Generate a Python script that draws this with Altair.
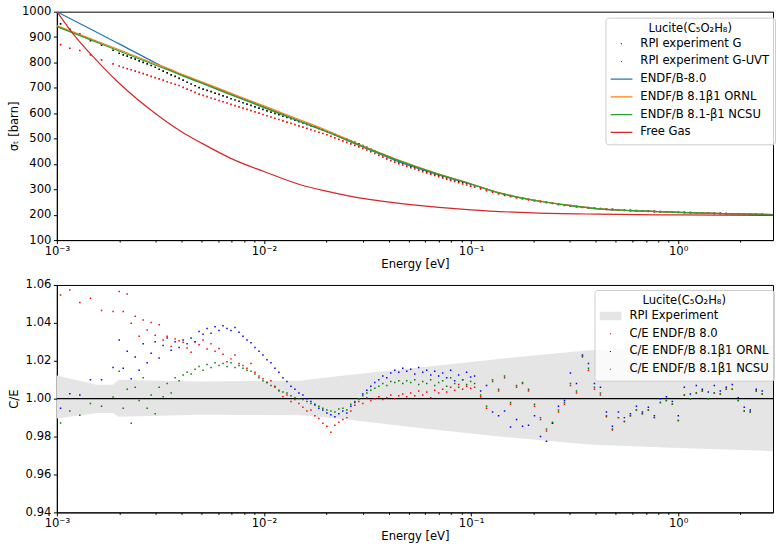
import altair as alt
import pandas as pd

FONT = "DejaVu Sans"
FS = 11.6

# ---------------- measured energy grid (eV) ----------------
E_sparse = [0.001042, 0.001155, 0.001291, 0.001453, 0.001643, 0.001868]
E_dense = [0.002000, 0.002091, 0.002186, 0.002285, 0.002389, 0.002497, 0.002611, 0.002729, 0.002853, 0.002983,
           0.003118, 0.003260, 0.003408, 0.003563, 0.003724, 0.003893, 0.004070, 0.004255, 0.004448, 0.004650,
           0.004861, 0.005082, 0.005313, 0.005554, 0.005806, 0.006070, 0.006345, 0.006633, 0.006934, 0.007249,
           0.007578, 0.007922, 0.008282, 0.008658, 0.009051, 0.009462, 0.009891, 0.01034, 0.01081, 0.01130,
           0.01181, 0.01235, 0.01291, 0.01350, 0.01411, 0.01475, 0.01542, 0.01612, 0.01685, 0.01762,
           0.01842, 0.01925, 0.02013, 0.02104, 0.02200, 0.02299, 0.02404, 0.02513, 0.02627, 0.02746,
           0.02871, 0.03001, 0.03138, 0.03280, 0.03429, 0.03585, 0.03747, 0.03918, 0.04095, 0.04281,
           0.04476, 0.04679, 0.04891, 0.05113, 0.05346, 0.05588, 0.05842, 0.06107, 0.06385, 0.06675,
           0.06977, 0.07294, 0.07625, 0.07971, 0.08333, 0.08712, 0.09107, 0.09521, 0.09953]
E_high = [0.1040, 0.1112, 0.1188, 0.1270, 0.1358, 0.1451, 0.1551, 0.1658, 0.1772, 0.1894,
          0.2025, 0.2164, 0.2313, 0.2473, 0.2643, 0.2825, 0.3020, 0.3228, 0.3450, 0.3688,
          0.3942, 0.4214, 0.4504, 0.4814, 0.5146, 0.5500, 0.5879, 0.6284, 0.6717, 0.7180,
          0.7675, 0.8204, 0.8769, 0.9373, 1.0019, 1.0709, 1.1447, 1.2236, 1.3079, 1.3980,
          1.4943, 1.5973, 1.7073, 1.8250, 1.9507, 2.0851, 2.2288, 2.3823, 2.5465]
E_meas = E_sparse + E_dense + E_high

# ---------------- top panel: measured total cross sections (barn) ----------------
sigma_G = [952, 930, 912, 886, 868, 848,
           836, 830, 825, 818, 813, 806, 800, 794, 788, 781,
           773, 766, 759, 751, 745, 737, 730, 722, 715, 708,
           701, 695, 690, 685, 679, 674, 668, 663, 657, 652,
           647, 641, 636, 631, 625, 620, 615, 609, 604, 599,
           594, 588, 583, 578, 572, 567, 562, 556, 551, 546,
           540, 534, 528, 522, 516, 510, 503, 497, 491, 485,
           479, 472, 465, 458, 451, 444, 437, 430, 423, 416,
           408, 402, 397, 391, 386, 381, 375, 370, 365, 360,
           356, 351, 346, 341, 337, 332, 327, 323, 318,
           314, 307, 300, 293, 286, 280, 275, 270, 266, 261,
           257, 253, 249, 246, 242, 239, 236, 233, 230, 228,
           226, 224, 222, 221, 219, 218, 217, 216, 215, 214,
           213, 212, 211, 210, 209.5, 209, 208, 207.5, 207, 206,
           205.5, 205, 204, 203.5, 203, 202.5, 202, 201.5, 201]
sigma_UVT = [870, 856, 847, 830, 810, 794,
             786, 780, 775, 771, 766, 761, 756, 751, 745, 740,
             735, 730, 724, 719, 714, 709, 702, 695, 689, 682,
             675, 670, 665, 660, 655, 650, 645, 640, 635, 630,
             625, 620, 615, 610, 605, 600, 595, 590, 585, 580,
             575, 570, 565, 560, 555, 550, 545, 540, 535, 530,
             525, 520, 515, 509, 503, 497, 491, 485, 479, 473,
             467, 461, 455, 448, 441, 434, 427, 420, 413, 407,
             401, 396, 390, 385, 380, 375, 370, 365, 360, 355,
             350, 345, 340, 335, 331, 326, 321, 317, 312,
             308, 302, 295, 289, 282, 276, 271, 266, 262, 258,
             254, 250, 247, 244, 240, 237, 234, 231, 229, 227,
             225, 223, 221, 220, 218, 217, 216, 215, 214, 213,
             212, 211, 210, 209.5, 209, 208.5, 208, 207, 206.5, 206,
             205, 204.5, 204, 203, 202.5, 202, 201.5, 201, 200.5]

# ---------------- top panel: evaluations (barn) ----------------
E_eval = [0.001, 0.0015, 0.002, 0.003, 0.0035, 0.004, 0.005, 0.007, 0.01, 0.015, 0.02, 0.03, 0.045,
          0.07, 0.1, 0.136, 0.2, 0.3, 0.41, 0.6, 1.0, 1.5, 2.0, 2.87]
sigma_endf80 = [1000, 926, 873, 798, 771, 751, 721, 673, 625, 568, 528, 467, 408,
                357, 320, 286, 257, 236, 223, 216, 209, 205, 203, 200]
sigma_ornl = [945, 889, 850, 794, 774, 754, 724, 677, 629, 573, 533, 471, 414,
              360, 322, 287, 258, 237, 224, 216, 209, 205, 203, 200]
sigma_ncsu = [941, 885, 845, 789, 768, 749, 718, 671, 622, 566, 527, 469, 412,
              359, 321, 286, 257, 236, 223, 216, 209, 205, 203, 200]
E_free = [0.001, 0.0012, 0.0015, 0.002, 0.003, 0.004, 0.005, 0.007, 0.01, 0.015, 0.02,
          0.03, 0.045, 0.07, 0.1, 0.2, 0.41, 1.0, 2.87]
sigma_free = [1000, 912, 822, 718, 598, 527, 482, 420, 370, 318, 293,
              264, 245, 229, 219, 207, 202, 199, 197]

# ---------------- bottom panel: C/E ----------------
ce_endf80 = [1.0547, 1.0574, 1.0507, 1.0530, 1.0465, 1.0460,
             1.0565, 1.0460, 1.0552, 1.0398, 1.0435, 1.0330, 1.0415, 1.0362, 1.0402, 1.0335,
             1.0390, 1.0310, 1.0330, 1.0275, 1.0315, 1.0305, 1.0298, 1.0268, 1.0245, 1.0300,
             1.0285, 1.0310, 1.0262, 1.0290, 1.0250, 1.0265, 1.0235, 1.0195, 1.0210, 1.0230,
             1.0185, 1.0175, 1.0160, 1.0185, 1.0140, 1.0120, 1.0105, 1.0085, 1.0095, 1.0065,
             1.0040, 1.0010, 1.0020, 0.9985, 0.9995, 0.9975, 0.9955, 0.9935, 0.9940, 0.9910,
             0.9895, 0.9870, 0.9855, 0.9823, 0.9860, 0.9875, 0.9890, 0.9900, 0.9935, 0.9965,
             0.9985, 0.9975, 1.0005, 0.9990, 1.0000, 1.0010, 0.9995, 1.0005, 1.0020, 1.0000,
             1.0015, 1.0025, 1.0010, 1.0030, 1.0015, 1.0040, 1.0020, 1.0035, 1.0005, 1.0045,
             1.0030, 1.0050, 1.0035, 1.0060, 1.0045, 1.0075, 1.0050, 1.0065, 1.0055,
             1.006, 1.001, 0.995, 1.009, 1.004, 1.011, 0.997, 1.006, 1.008, 1.004,
             0.996, 0.989, 0.983, 0.987, 0.993, 0.997, 1.007, 1.003, 1.022, 1.015,
             1.005, 1.002, 0.9905, 0.9835, 0.990, 0.988, 0.991, 0.994, 0.992, 0.994,
             0.990, 0.998, 0.999, 0.997, 0.9885, 1.002, 1.000, 1.003, 1.004, 1.000,
             1.003, 1.0025, 1.005, 1.005, 0.999, 0.9935, 0.993, 1.004, 1.0025]
ce_ornl = [0.9950, 1.0026, 1.0019, 1.0100, 1.0100, 1.0165,
           1.0310, 1.0160, 1.0250, 1.0105, 1.0220, 1.0150, 1.0290, 1.0190, 1.0240, 1.0300,
           1.0215, 1.0280, 1.0320, 1.0255, 1.0300, 1.0270, 1.0310, 1.0290, 1.0320, 1.0300,
           1.0355, 1.0340, 1.0370, 1.0345, 1.0380, 1.0360, 1.0385, 1.0370, 1.0360, 1.0375,
           1.0350, 1.0330, 1.0310, 1.0295, 1.0270, 1.0250, 1.0230, 1.0205, 1.0190, 1.0160,
           1.0140, 1.0110, 1.0090, 1.0065, 1.0050, 1.0030, 1.0020, 1.0000, 0.9985, 0.9970,
           0.9950, 0.9940, 0.9925, 0.9915, 0.9905, 0.9920, 0.9935, 0.9925, 0.9960, 0.9980,
           1.0000, 1.0025, 1.0045, 1.0065, 1.0085, 1.0100, 1.0120, 1.0110, 1.0135, 1.0150,
           1.0140, 1.0160, 1.0145, 1.0155, 1.0130, 1.0165, 1.0140, 1.0150, 1.0125, 1.0145,
           1.0120, 1.0135, 1.0110, 1.0150, 1.0095, 1.0125, 1.0100, 1.0140, 1.0115,
           1.012, 1.004, 1.007, 0.993, 0.991, 0.9935, 0.985, 0.989, 0.9855, 0.986,
           0.991, 0.980, 0.9775, 0.987, 0.996, 0.999, 1.0135, 1.008, 1.023, 1.0185,
           1.008, 1.006, 0.993, 0.9855, 0.993, 0.990, 0.992, 0.996, 0.993, 0.9955,
           0.991, 1.000, 1.001, 0.9985, 0.991, 1.006, 1.0025, 1.007, 1.005, 1.0035,
           1.007, 1.004, 1.006, 1.0075, 1.0005, 0.9955, 0.994, 1.005, 1.004]
ce_ncsu = [0.9872, 0.9935, 0.9912, 0.9974, 0.9960, 1.0009,
           1.0145, 0.9950, 1.0050, 0.9870, 1.0060, 0.9990, 1.0110, 0.9950, 1.0020, 0.9920,
           1.0060, 1.0010, 1.0080, 1.0030, 1.0110, 1.0095, 1.0125, 1.0140, 1.0130, 1.0155,
           1.0170, 1.0150, 1.0180, 1.0165, 1.0190, 1.0175, 1.0185, 1.0170, 1.0190, 1.0165,
           1.0175, 1.0160, 1.0150, 1.0145, 1.0130, 1.0110, 1.0095, 1.0085, 1.0070, 1.0060,
           1.0045, 1.0035, 1.0030, 1.0015, 1.0005, 1.0000, 0.9995, 0.9985, 0.9975, 0.9965,
           0.9960, 0.9950, 0.9940, 0.9935, 0.9930, 0.9945, 0.9950, 0.9940, 0.9970, 0.9985,
           1.0000, 1.0015, 1.0030, 1.0045, 1.0055, 1.0065, 1.0080, 1.0070, 1.0090, 1.0085,
           1.0095, 1.0080, 1.0095, 1.0085, 1.0100, 1.0075, 1.0090, 1.0080, 1.0100, 1.0070,
           1.0085, 1.0095, 1.0065, 1.0110, 1.0080, 1.0060, 1.0100, 1.0075, 1.0090,
           1.008, 1.002, 0.996, 1.010, 1.005, 1.012, 0.998, 1.007, 1.0085, 1.005,
           0.997, 0.990, 0.984, 0.9875, 0.994, 0.998, 1.008, 1.004, 1.0225, 1.016,
           1.006, 1.003, 0.991, 0.984, 0.990, 0.988, 0.991, 0.994, 0.992, 0.994,
           0.990, 0.998, 0.999, 0.997, 0.9885, 1.002, 1.000, 1.003, 1.004, 1.000,
           1.003, 1.0025, 1.005, 1.005, 0.999, 0.9935, 0.993, 1.004, 1.0025]

# experimental uncertainty band
E_band = [0.001, 0.001559, 0.001862, 0.001990, 0.00489, 0.01483, 0.02311, 0.05616, 0.1364, 0.3704, 1.006, 2.87]
band_low = [0.9896, 0.9925, 0.9925, 0.9905, 0.9915, 0.9912, 0.9895, 0.9845, 0.9800, 0.9758, 0.9740, 0.9723]
band_high = [1.0122, 1.0074, 1.0074, 1.0100, 1.0090, 1.0095, 1.0120, 1.0165, 1.0210, 1.0255, 1.0270, 1.0280]

top_names = ["RPI experiment G", "RPI experiment G-UVT", "ENDF/B-8.0",
             "ENDF/B 8.1β1 ORNL", "ENDF/B 8.1-β1 NCSU", "Free Gas"]
top_colors = ["black", "red", "#1f77b4", "#ff7f0e", "#2ca02c", "#d62728"]
bot_names = ["RPI Experiment", "C/E ENDF/B 8.0", "C/E ENDF/B 8.1β1 ORNL", "C/E ENDF/B 8.1β1 NCSU"]
bot_colors = ["#e5e5e5", "#ff0000", "#0000ff", "#008000"]

# legend glyphs: small dot, short line, grey patch (paths in the unit box)
DOT = "M-0.05,-0.05H0.05V0.05H-0.05Z"
LINE = "M-1,-0.06H1V0.06H-1Z"
PATCH = "M-1,-0.38H1V0.38H-1Z"
top_shapes = [DOT, DOT, LINE, LINE, LINE, LINE]
bot_shapes = [PATCH, DOT, DOT, DOT]

x_ticks = [0.001, 0.002, 0.003, 0.004, 0.005, 0.006, 0.007, 0.008, 0.009,
           0.01, 0.02, 0.03, 0.04, 0.05, 0.06, 0.07, 0.08, 0.09,
           0.1, 0.2, 0.3, 0.4, 0.5, 0.6, 0.7, 0.8, 0.9, 1, 2]
legend_title = "Lucite(C₅O₂H₈)"

# ---------------- data frames ----------------
df_meas = pd.concat([
    pd.DataFrame({"E": E_meas, "sigma": sigma_G, "series": top_names[0]}),
    pd.DataFrame({"E": E_meas, "sigma": sigma_UVT, "series": top_names[1]}),
])
df_eval = pd.concat([
    pd.DataFrame({"E": E_eval, "sigma": sigma_endf80, "series": top_names[2]}),
    pd.DataFrame({"E": E_eval, "sigma": sigma_ornl, "series": top_names[3]}),
    pd.DataFrame({"E": E_eval, "sigma": sigma_ncsu, "series": top_names[4]}),
    pd.DataFrame({"E": E_free, "sigma": sigma_free, "series": top_names[5]}),
])
df_ce = pd.concat([
    pd.DataFrame({"E": E_meas, "ce": ce_endf80, "series": bot_names[1]}),
    pd.DataFrame({"E": E_meas, "ce": ce_ornl, "series": bot_names[2]}),
    pd.DataFrame({"E": E_meas, "ce": ce_ncsu, "series": bot_names[3]}),
])
df_band = pd.DataFrame({"E": E_band, "lo": band_low, "hi": band_high, "series": bot_names[0]})
df_unity = pd.DataFrame({"ce": [1.0]})

# ---------------- axes / legends ----------------
major_test = "datum.value == 0.001 || datum.value == 0.01 || datum.value == 0.1 || datum.value == 1"
label_expr = ("datum.value == 0.001 ? '10⁻³' : datum.value == 0.01 ? '10⁻²' : "
              "datum.value == 0.1 ? '10⁻¹' : datum.value == 1 ? '10⁰' : ''")


def x_enc():
    return alt.X(
        "E:Q",
        scale=alt.Scale(type="log", domain=[0.001, 2.87], nice=False),
        axis=alt.Axis(values=x_ticks, labelExpr=label_expr, title="Energy [eV]",
                      tickSize={"condition": {"test": major_test, "value": 3.5}, "value": 2},
                      labelFlush=False, labelOverlap=False, labelPadding=2, titlePadding=1),
    )


def make_legend(lx, ly):
    return alt.Legend(
        title=legend_title, orient="none", legendX=lx, legendY=ly,
        titleAnchor="middle", titleFont=FONT, titleFontSize=FS, titleFontWeight="normal",
        titleColor="black", labelFont=FONT, labelFontSize=FS, labelColor="black",
        fillColor="rgba(255,255,255,0.8)", strokeColor="#cccccc", cornerRadius=3,
        padding=5, symbolSize=484, clipHeight=13, rowPadding=4.8, titlePadding=3,
        labelOffset=8, labelLimit=300, symbolStrokeWidth=0, symbolOpacity=1,
    )


top_color = alt.Color("series:N", scale=alt.Scale(domain=top_names, range=top_colors),
                      legend=make_legend(550, 6))
top_shape = alt.Shape("series:N", scale=alt.Scale(domain=top_names, range=top_shapes),
                      legend=make_legend(550, 6))
bot_color = alt.Color("series:N", scale=alt.Scale(domain=bot_names, range=bot_colors),
                      legend=make_legend(539, 5))
bot_shape = alt.Shape("series:N", scale=alt.Scale(domain=bot_names, range=bot_shapes),
                      legend=make_legend(539, 5))

y_top = alt.Y("sigma:Q", scale=alt.Scale(domain=[100, 1000], nice=False, zero=False),
              axis=alt.Axis(values=list(range(100, 1001, 100)), format="d", title="σₜ [barn]",
                            titleX=-37, labelPadding=2.5, labelFlush=False, labelOverlap=False))
bot_axis = alt.Axis(values=[0.94, 0.96, 0.98, 1.00, 1.02, 1.04, 1.06], format=".2f",
                    title="C/E", titleX=-37, labelPadding=2.5, labelFlush=False, labelOverlap=False)
bot_scale = alt.Scale(domain=[0.94, 1.06], nice=False, zero=False)

# ---------------- top panel ----------------
meas_layer = alt.Chart(df_meas).mark_point(filled=True, size=1100, opacity=1, strokeWidth=0, clip=True).encode(
    x=x_enc(), y=y_top, color=top_color, shape=top_shape)
eval_layer = alt.Chart(df_eval).mark_line(strokeWidth=1.2, clip=True, interpolate="monotone").encode(
    x=x_enc(), y=y_top, color=top_color)
top = alt.layer(meas_layer, eval_layer).properties(width=718, height=229)

# ---------------- bottom panel ----------------
band_layer = alt.Chart(df_band).mark_area(opacity=1, clip=True).encode(
    x=x_enc(), y=alt.Y("lo:Q", scale=bot_scale, axis=bot_axis), y2="hi:Q", color=bot_color)
unity = alt.Chart(df_unity).mark_rule(color="black", strokeWidth=1.2).encode(
    y=alt.Y("ce:Q", scale=bot_scale, axis=bot_axis))
ce_layer = alt.Chart(df_ce).mark_point(filled=True, size=900, opacity=1, strokeWidth=0, clip=True).encode(
    x=x_enc(), y=alt.Y("ce:Q", scale=bot_scale, axis=bot_axis), color=bot_color, shape=bot_shape)
bottom = alt.layer(band_layer, unity, ce_layer).properties(width=718, height=228)

chart = alt.vconcat(top, bottom, spacing=45, bounds="flush").resolve_scale(
    color="independent", shape="independent").properties(
    padding={"left": 8, "top": 4, "right": 0, "bottom": 0},
    autosize=alt.AutoSizeParams(type="pad"),
).configure(font=FONT).configure_view(stroke="black", strokeWidth=1).configure_axis(
    labelFont=FONT, labelFontSize=FS, labelColor="black",
    titleFont=FONT, titleFontSize=FS, titleFontWeight="normal", titleColor="black",
    domainColor="black", domainWidth=1, tickColor="black", tickSize=3.5, grid=False,
)

chart.save("out.html", embed_options={"renderer": "svg", "actions": False})
